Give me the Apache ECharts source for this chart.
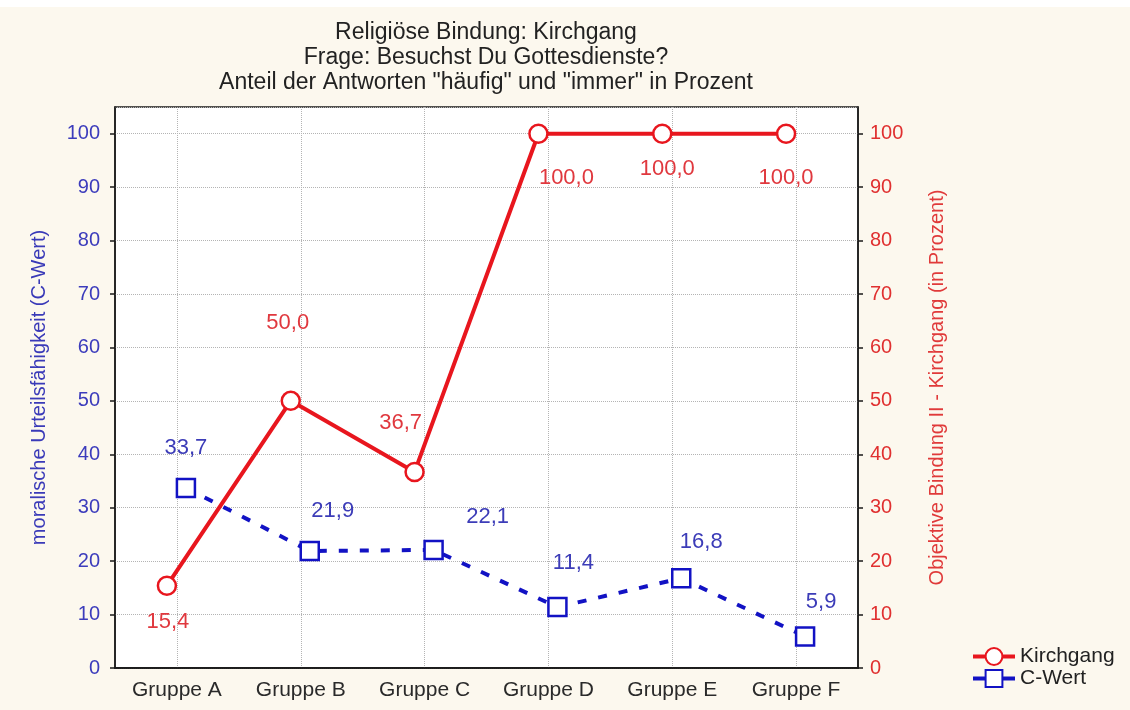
<!DOCTYPE html>
<html>
<head>
<meta charset="utf-8">
<script src="https://cdn.jsdelivr.net/npm/echarts@6/dist/echarts.min.js"></script>
<style>
html,body{margin:0;padding:0;background:#fcf8ee;}
#c{width:1130px;height:710px;}
</style>
</head>
<body>
<div id="c"></div>
<script>
// ---- data ----
const categories = ['Gruppe A', 'Gruppe B', 'Gruppe C', 'Gruppe D', 'Gruppe E', 'Gruppe F'];
const kirchgang = [15.4, 50.0, 36.7, 100.0, 100.0, 100.0];
const cWert = [33.7, 21.9, 22.1, 11.4, 16.8, 5.9];
const titleLines = [
  'Religiöse Bindung: Kirchgang',
  'Frage: Besuchst Du Gottesdienste?',
  'Anteil der Antworten "häufig" und "immer" in Prozent'
];
const leftAxisName = 'moralische Urteilsfähigkeit (C-Wert)';
const rightAxisName = 'Objektive Bindung II - Kirchgang (in Prozent)';
const yMin = 0, yMax = 105, yInterval = 10;

// ---- layout (label placement, px) ----
const kirchgangLabelOffset = [[1, 36], [-3, -78], [-14, -49], [28, 44], [5, 35], [0, 44]];
const cWertLabelOffset = [[0, -40], [23, -40], [54, -33], [16, -44], [20, -36], [16, -35]];

const FONT = '"Liberation Sans", Arial, sans-serif';
const RED = '#e8161e';
const BLUE = '#1212c4';
const AXIS = '#1a1a1a';
const GRIDLINE = {show: true, interval: 0, lineStyle: {color: '#b4b4b4', type: 'dotted', width: 1}};
const fmt = p => p.value.toFixed(1).replace('.', ',');

const G = {top: 107, bottom: 42};
const chart = echarts.init(document.getElementById('c'));

chart.setOption({
  backgroundColor: '#fcf8ee',
  animation: false,
  textStyle: {fontFamily: FONT},
  graphic: [
    {type: 'rect', left: 0, top: 0, z: 0, shape: {width: 1130, height: 7}, style: {fill: '#ffffff'}},
    {
      type: 'text', x: 486, y: 20, z: 10,
      style: {
        text: titleLines.join('\n'), textAlign: 'center', fill: '#222',
        fontSize: 23, fontFamily: FONT, lineHeight: 25
      }
    }
  ],
  legend: {
    left: 966, top: 641, orient: 'vertical',
    itemWidth: 42, itemHeight: 21, itemGap: 1,
    lineStyle: {width: 4, type: 'solid'},
    textStyle: {fontSize: 21, color: '#222', fontFamily: FONT},
    data: ['Kirchgang', 'C-Wert']
  },
  grid: [
    {left: 115, right: 272, top: G.top, bottom: G.bottom, show: true, backgroundColor: '#ffffff', borderColor: AXIS, borderWidth: 1.5},
    {left: 105, right: 282, top: G.top, bottom: G.bottom},
    {left: 124, right: 263, top: G.top, bottom: G.bottom}
  ],
  xAxis: [
    {
      gridIndex: 0, type: 'category', data: categories, position: 'bottom',
      axisLine: {lineStyle: {color: AXIS, width: 1.5}},
      axisTick: {inside: true, alignWithLabel: true, interval: 0, length: 6, lineStyle: {color: AXIS, width: 1.5}},
      axisLabel: {fontSize: 21, color: '#2a2a2a', margin: 12, interval: 0, fontFamily: FONT},
      splitLine: Object.assign({alignWithLabel: true}, GRIDLINE)
    },
    {
      gridIndex: 0, type: 'category', data: categories, position: 'top',
      axisLine: {lineStyle: {color: AXIS, width: 1.5}},
      axisTick: {inside: true, alignWithLabel: true, interval: 0, length: 6, lineStyle: {color: AXIS, width: 1.5}},
      axisLabel: {show: false, interval: 0}, splitLine: {show: false}
    },
    {gridIndex: 1, type: 'category', data: categories, show: false},
    {gridIndex: 2, type: 'category', data: categories, show: false}
  ],
  yAxis: [
    {
      gridIndex: 0, type: 'value', min: yMin, max: yMax, interval: yInterval, position: 'left',
      name: leftAxisName, nameLocation: 'middle', nameGap: 66, nameRotate: 90,
      nameTextStyle: {color: '#3a3ab8', fontSize: 20, fontFamily: FONT},
      axisLine: {show: true, lineStyle: {color: AXIS, width: 1.5}},
      axisTick: {show: true, length: 5, lineStyle: {color: AXIS, width: 1.5}},
      axisLabel: {color: '#3c3cbc', fontSize: 20, margin: 15, showMaxLabel: false, fontFamily: FONT},
      splitLine: {show: true, lineStyle: {color: '#b4b4b4', type: 'dotted', width: 1}}
    },
    {
      gridIndex: 0, type: 'value', min: yMin, max: yMax, interval: yInterval, position: 'right',
      name: rightAxisName, nameLocation: 'middle', nameGap: 69, nameRotate: 90,
      nameTextStyle: {color: '#e03a3a', fontSize: 20, fontFamily: FONT},
      axisLine: {show: true, lineStyle: {color: AXIS, width: 1.5}},
      axisTick: {show: true, length: 5, lineStyle: {color: AXIS, width: 1.5}},
      axisLabel: {color: '#e03030', fontSize: 20, margin: 12, showMaxLabel: false, fontFamily: FONT},
      splitLine: {show: false}
    },
    {gridIndex: 1, type: 'value', min: yMin, max: yMax, interval: yInterval, show: false},
    {gridIndex: 2, type: 'value', min: yMin, max: yMax, interval: yInterval, show: false}
  ],
  series: [
    {
      name: 'Kirchgang', type: 'line', xAxisIndex: 2, yAxisIndex: 2, z: 4,
      color: RED, clip: false,
      data: kirchgang.map((v, i) => ({value: v, label: {offset: kirchgangLabelOffset[i]}})),
      symbol: 'circle', symbolSize: 18,
      lineStyle: {color: RED, width: 4},
      itemStyle: {color: '#ffffff', borderColor: RED, borderWidth: 2.5},
      label: {show: true, position: 'inside', fontSize: 22, color: '#e0383e', formatter: fmt, fontFamily: FONT},
      emphasis: {disabled: true}
    },
    {
      name: 'C-Wert', type: 'line', xAxisIndex: 3, yAxisIndex: 3, z: 3,
      color: BLUE, clip: false,
      data: cWert.map((v, i) => ({value: v, label: {offset: cWertLabelOffset[i]}})),
      symbol: 'rect', symbolSize: 18,
      lineStyle: {color: BLUE, width: 4, type: [9, 12]},
      itemStyle: {color: '#ffffff', borderColor: BLUE, borderWidth: 2.5},
      label: {show: true, position: 'inside', fontSize: 22, color: '#3c3cb8', formatter: fmt, fontFamily: FONT},
      emphasis: {disabled: true}
    }
  ]
});
</script>
</body>
</html>
